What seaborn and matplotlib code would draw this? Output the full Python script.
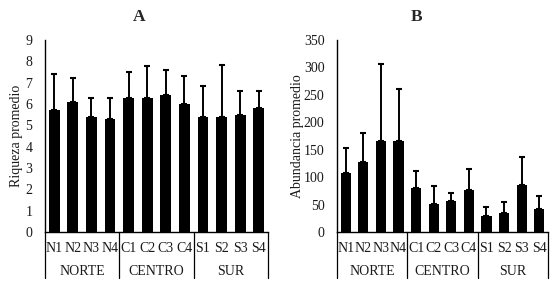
import matplotlib
matplotlib.use("Agg")
import matplotlib.pyplot as plt
import matplotlib.transforms as mtransforms
import seaborn as sns
import numpy as np
import pandas as pd

sites = ["N1", "N2", "N3", "N4", "C1", "C2", "C3", "C4", "S1", "S2", "S3", "S4"]
groups = ["NORTE", "CENTRO", "SUR"]
riqueza = [5.7, 6.1, 5.4, 5.3, 6.3, 6.3, 6.4, 6.0, 5.4, 5.4, 5.5, 5.8]
riqueza_err = [1.7, 1.1, 0.9, 1.0, 1.2, 1.5, 1.2, 1.3, 1.45, 2.45, 1.1, 0.83]
abundancia = [107, 128, 166, 165, 81, 51, 57, 76, 30, 34, 85, 42]
abundancia_err = [46, 53, 140, 96, 31, 32, 14, 38, 15, 21, 51, 24]

sns.set_theme(style="white")
plt.rcParams["font.family"] = ["Liberation Serif", "DejaVu Serif"]

fig = plt.figure(figsize=(5.56, 2.82), dpi=100)
W, H = 556, 282

def make_axes(l, r):
    return fig.add_axes([l / W, 1 - 232 / H, (r - l) / W, 192 / H])

axA = make_axes(45, 268)
axB = make_axes(337, 548)

def draw(ax, vals, errs, ymax, step, ylabel, title, title_x, ylab_x):
    df = pd.DataFrame({"site": sites, "val": vals})
    sns.barplot(data=df, x="site", y="val", color="black", width=0.58,
                saturation=1, ax=ax, errorbar=None, linewidth=0)
    xs = np.arange(len(sites))
    ax.errorbar(xs, vals, yerr=[np.zeros(len(vals)), errs], fmt="none",
                ecolor="black", elinewidth=1.4, capsize=2.3, capthick=1.5)
    ax.set_xlim(-0.5, len(sites) - 0.5)
    ax.set_ylim(0, ymax)
    ax.set_yticks(np.arange(0, ymax + step / 2, step))
    ax.set_xlabel("")
    ax.set_ylabel(ylabel, fontsize=10, color="#1a1a1a")
    ax.yaxis.set_label_coords(ylab_x, 0.5)
    for s in ["top", "right"]:
        ax.spines[s].set_visible(False)
    for s in ["left", "bottom"]:
        ax.spines[s].set_color("black")
        ax.spines[s].set_linewidth(1.0)
    ax.tick_params(axis="y", length=0, pad=9, labelsize=10, labelcolor="#1a1a1a")
    ax.tick_params(axis="x", length=0, pad=7, labelsize=10, labelcolor="#1a1a1a")
    trans = mtransforms.blended_transform_factory(ax.transData, ax.transAxes)
    for xb in [-0.5, 3.5, 7.5, 11.5]:
        ax.plot([xb, xb], [0, -0.24], transform=trans, color="black",
                lw=0.9, clip_on=False)
    for i, g in enumerate(groups):
        ax.text(4 * i + 1.5, -0.205, g, transform=trans, ha="center",
                va="center", fontsize=10, color="#1a1a1a")
    fig.text(title_x / W, 1 - 17 / H, title, ha="center", va="center",
             fontsize=12.5, fontweight="bold")

draw(axA, riqueza, riqueza_err, 9, 1, "Riqueza promedio", "A", 139, (23 - 45) / 223)
draw(axB, abundancia, abundancia_err, 350, 50, "Abundancia promedio", "B", 417, (304 - 337) / 211)

fig.savefig("out.png", dpi=100)
